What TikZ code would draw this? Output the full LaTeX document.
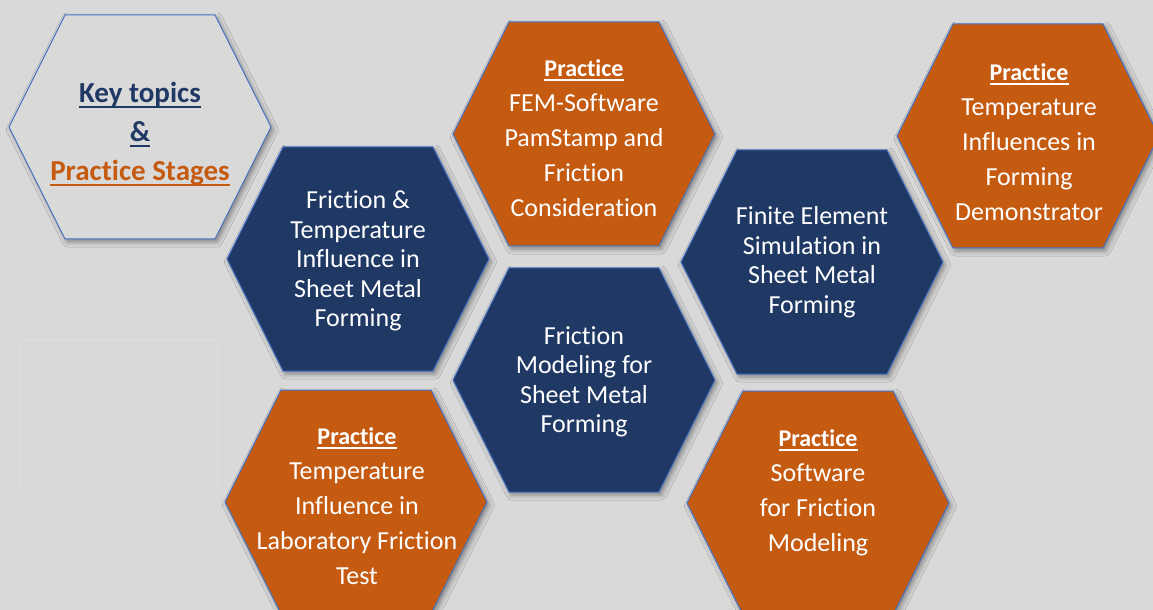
\documentclass[tikz,border=0pt]{standalone}
\usepackage{fontspec}
\setmainfont{Carlito}[Ligatures={NoCommon,NoContextual}]
\usetikzlibrary{shadows.blur}

\definecolor{bggray}{RGB}{217,217,217}
\definecolor{navy}{RGB}{31,56,100}
\definecolor{rust}{RGB}{197,90,17}
\definecolor{hexline}{RGB}{68,114,196}
\definecolor{faintbox}{RGB}{220,220,220}

% hexagon, flat top and bottom, around a named centre
\newcommand\hexagon[2]{%
  \draw[#1, shift={(#2)}] (-131,0) -- (-75,-112) -- (75,-112) -- (131,0)
       -- (75,112) -- (-75,112) -- cycle;}
% underline: depth, thickness, text
\newcommand\hexuline[3]{\setbox0\hbox{#3}\rlap{\rule[-#1]{\wd0}{#2}}\box0}
\newcommand\practice{{\bfseries\fontsize{12}{17.5}\selectfont\hexuline{2.1pt}{0.75pt}{Practice}}}
\newcommand\keyline[1]{\hexuline{2.6pt}{1pt}{#1}}

\begin{document}
\begin{tikzpicture}[% styles used in image code
    x = 0.5pt, y = -0.5pt, % pixel like units
hex/.style = {draw=hexline, line width=0.5pt,
              blur shadow={shadow xshift=1.2pt, shadow yshift=-1.5pt,
                           shadow blur radius=2.5pt, shadow opacity=40}},
navyhex/.style = {hex, fill=navy},
rusthex/.style = {hex, fill=rust},
keyhex/.style  = {hex, fill=bggray},
txt/.style  = {text=white, align=center, inner sep=0pt,
               font=\fontsize{13}{14.75}\selectfont},
ptxt/.style = {txt, font=\fontsize{13}{17.5}\selectfont}
                    ]
	% canvas
	\fill[bggray] (0,0) rectangle (1153,610);
	\useasboundingbox (0,0) rectangle (1153,610);
	\clip (0,0) rectangle (1153,610);
	\draw[faintbox, line width=0.6pt] (20,340) rectangle (218,486);

	\coordinate (keyc)  at (140,127);
	\coordinate (fricc) at (358,259);
	\coordinate (femc)  at (584,134);
	\coordinate (democ) at (1028,136);
	\coordinate (finc)  at (812,262);
	\coordinate (modc)  at (584,380);
	\coordinate (labc)  at (356,502);
	\coordinate (softc) at (818,503);

	% hexagons
	\hexagon{keyhex}{keyc}
	\hexagon{navyhex}{fricc}
	\hexagon{rusthex}{femc}
	\hexagon{rusthex}{democ}
	\hexagon{navyhex}{finc}
	\hexagon{navyhex}{modc}
	\hexagon{rusthex}{labc}
	\hexagon{rusthex}{softc}

	% texts
	\node[align=center, inner sep=0pt, font=\bfseries\fontsize{14.5}{19.5}\selectfont]
	     (key) at (140,134) {\textcolor{navy}{\keyline{Key topics}}\\
	                         \textcolor{navy}{\keyline{\&}}\\
	                         \textcolor{rust}{\keyline{Practice Stages}}};
	\node[txt]  (fric) at (358,261) {Friction \&\\Temperature\\Influence in\\Sheet Metal\\Forming};
	\node[ptxt] (fem)  at (584,138) {\practice\\FEM-Software\\PamStamp and\\Friction\\Consideration};
	\node[ptxt] (demo) at (1029,142) {\practice\\Temperature\\Influences in\\Forming\\Demonstrator};
	\node[txt]  (fin)  at (812,262) {Finite Element\\Simulation in\\Sheet Metal\\Forming};
	\node[txt]  (mod)  at (584,382) {Friction\\Modeling for\\Sheet Metal\\Forming};
	\node[ptxt] (lab)  at (357,506) {\practice\\Temperature\\Influence in\\Laboratory Friction\\Test};
	\node[ptxt] (soft) at (818,493) {\practice\\Software\\for Friction\\Modeling};
\end{tikzpicture}
\end{document}
